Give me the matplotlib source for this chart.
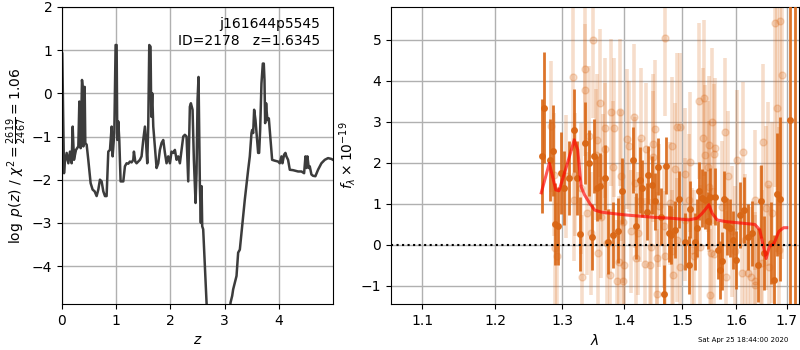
import matplotlib
matplotlib.use("Agg")
import matplotlib.pyplot as plt
import numpy as np
from matplotlib.ticker import FixedLocator, FixedFormatter, NullLocator

# ---- redshift probability curve ----
pz_z = [0.005, 0.037, 0.049, 0.086, 0.117, 0.147, 0.178, 0.197, 0.221, 0.258, 0.301, 0.320,
        0.344, 0.369, 0.381, 0.393, 0.418, 0.430, 0.455, 0.485, 0.528, 0.565, 0.602, 0.639,
        0.670, 0.700, 0.731, 0.762, 0.793, 0.823, 0.854, 0.885, 0.916, 0.934, 0.965, 0.989,
        1.008, 1.020, 1.038, 1.057, 1.081, 1.131, 1.161, 1.192, 1.223, 1.253, 1.284, 1.315,
        1.327, 1.352, 1.376, 1.438, 1.468, 1.499, 1.530, 1.548, 1.573, 1.591, 1.610, 1.634,
        1.647, 1.665, 1.684, 1.714, 1.745, 1.776, 1.806, 1.837, 1.868, 1.899, 1.929, 1.960,
        1.991, 2.021, 2.052, 2.083, 2.114, 2.144, 2.175, 2.206, 2.237, 2.267, 2.298, 2.329,
        2.359, 2.378, 2.409, 2.433, 2.464, 2.482, 2.501, 2.519, 2.544, 2.562, 2.575, 2.587,
        2.605, 2.636, 2.667, 2.72, 2.90, 3.07, 3.109, 3.140, 3.158, 3.189, 3.220, 3.250,
        3.281, 3.312, 3.373, 3.435, 3.465, 3.496, 3.508, 3.527, 3.545, 3.570, 3.594, 3.619,
        3.637, 3.656, 3.680, 3.705, 3.723, 3.736, 3.748, 3.766, 3.779, 3.791, 3.816, 3.853,
        3.877, 3.926, 3.988, 4.018, 4.049, 4.067, 4.098, 4.122, 4.140, 4.171, 4.203, 4.264,
        4.356, 4.418, 4.467, 4.492, 4.510, 4.528, 4.553, 4.571, 4.602, 4.632, 4.675, 4.724,
        4.786, 4.848, 4.909, 4.971, 5.0]
pz_logp = [0.92, -1.85, -1.62, -1.38, -1.62, -1.35, -1.62, -0.77, -1.54, -1.31, -1.23, -0.19,
           -1.27, 0.31, 0.15, -1.23, 0.15, -1.15, -1.19, -1.54, -2.08, -2.23, -2.27, -2.38,
           -2.23, -2.00, -2.04, -2.27, -2.38, -2.38, -1.35, -1.31, -0.77, -1.46, -0.92, 1.12,
           1.12, -1.08, -0.65, -1.08, -2.04, -2.04, -1.69, -1.62, -1.63, -1.58, -1.60, -1.54,
           -1.35, -1.58, -1.62, -1.54, -1.46, -1.08, -0.77, -1.08, -1.62, -0.77, 1.12, 1.08,
           -0.54, 0.00, -0.77, -1.23, -1.73, -1.62, -1.31, -1.15, -1.08, -1.38, -1.62, -1.46,
           -1.62, -1.35, -1.38, -1.31, -1.54, -1.46, -1.62, -1.31, -1.00, -0.96, -1.00, -2.04,
           -0.31, -0.23, -0.38, -1.54, -2.54, -1.85, -0.15, 0.38, -2.15, -3.00, -2.15, -3.08,
           -3.15, -4.00, -4.85, -6.0, -8.5, -6.0, -4.85, -4.69, -4.54, -4.38, -4.23, -3.69,
           -3.62, -3.23, -2.46, -1.77, -1.46, -0.92, -0.85, -0.92, -0.38, -0.62, -1.00, -1.38,
           -1.38, -0.85, 0.23, 0.69, 0.69, 0.31, -0.69, -0.23, -0.46, -0.62, -0.58, -1.15,
           -1.54, -1.56, -1.58, -1.62, -1.46, -1.62, -1.42, -1.38, -1.46, -1.54, -1.77, -1.78,
           -1.81, -1.81, -1.85, -1.46, -1.73, -1.46, -1.73, -1.69, -1.88, -1.91, -1.92, -1.77,
           -1.62, -1.54, -1.50, -1.52, -1.54]

# ---- spectrum: primary beam ----
spec1_lam = [1.2688, 1.2727, 1.2816, 1.2852, 1.2886, 1.2935, 1.2975, 1.3026, 1.3107, 1.3188,
             1.3232, 1.3286, 1.3351, 1.3415, 1.3471, 1.3503, 1.3545, 1.3594, 1.3675, 1.3730,
             1.3821, 1.3902, 1.3954, 1.4147, 1.4205, 1.4263, 1.4293, 1.4380, 1.4410, 1.4468,
             1.4526, 1.4574, 1.4631, 1.4674, 1.4719, 1.4761, 1.4807, 1.4877, 1.4947, 1.5056,
             1.5119, 1.5148, 1.5230, 1.5272, 1.5315, 1.5365, 1.5415, 1.5476, 1.5519, 1.5606,
             1.5661, 1.5704, 1.5735, 1.5767, 1.5828, 1.5889, 1.5933, 1.5994, 1.6076, 1.6160,
             1.6237, 1.6313, 1.6427, 1.6477, 1.6553, 1.6681, 1.6744, 1.6809, 1.6872, 1.7065,
             1.7166]
spec1_flux = [2.17, 3.35, 2.07, 2.30, 0.51, 0.46, 1.75, 1.38, 1.63, 2.79,
              1.63, 0.27, 2.48, 1.99, 0.19, 2.17, 1.38, 1.44, 1.64, 0.08,
              0.24, 0.35, 1.32, 2.07, 0.46, 1.59, 1.38, 0.81, 1.71, 1.46,
              1.06, 1.91, 0.69, -1.20, 1.93, 0.28, 0.24, 0.37, 1.11, 0.08,
              -0.49, 0.87, 0.08, 0.41, 1.32, 1.14, 1.10, 0.59, 1.18, 1.18,
              -0.12, -0.61, -0.39, 1.11, 0.45, 0.41, 0.12, -0.37, 0.73, 0.85,
              0.20, 0.28, -0.49, 1.06, -0.20, 0.04, -0.85, 1.24, 1.11, 3.05,
              6.5]
spec1_err = [1.39, 1.36, 1.0, 1.1, 1.0, 0.95, 1.0, 0.9, 0.9, 1.0,
             0.9, 0.9, 1.0, 0.8, 0.8, 0.9, 0.8, 0.8, 0.8, 0.8,
             0.8, 0.8, 0.8, 0.8, 0.8, 0.8, 0.7, 0.7, 0.7, 0.7,
             0.7, 0.7, 0.7, 0.7, 0.7, 0.7, 0.7, 0.7, 0.7, 0.7,
             0.7, 0.7, 0.7, 0.7, 0.7, 0.7, 0.7, 0.7, 0.7, 0.7,
             0.7, 0.7, 0.7, 0.7, 0.7, 0.7, 0.7, 0.7, 0.8, 0.8,
             0.8, 0.8, 0.9, 0.9, 0.9, 1.0, 1.1, 1.5, 2.0, 9.0,
             9.0]

# ---- spectrum: secondary beam ----
spec2_lam = [1.2826, 1.2875, 1.2886, 1.2915, 1.3054, 1.3162, 1.3179, 1.3205, 1.3297, 1.3308,
             1.3351, 1.3362, 1.3394, 1.3415, 1.3460, 1.3487, 1.3540, 1.3556, 1.3568, 1.3594,
             1.3622, 1.3649, 1.3675, 1.3687, 1.3708, 1.3768, 1.3773, 1.3812, 1.3837, 1.3881,
             1.3919, 1.3935, 1.3946, 1.3974, 1.3980, 1.3990, 1.4042, 1.4077, 1.4105, 1.4158,
             1.4188, 1.4205, 1.4235, 1.4263, 1.4281, 1.4351, 1.4368, 1.4439, 1.4456, 1.4481,
             1.4490, 1.4516, 1.4556, 1.4560, 1.4586, 1.4674, 1.4701, 1.4705, 1.4789, 1.4819,
             1.4825, 1.4831, 1.4877, 1.4907, 1.4910, 1.4965, 1.4968, 1.5056, 1.5060, 1.5119,
             1.5148, 1.5180, 1.5211, 1.5304, 1.5333, 1.5378, 1.5396, 1.5426, 1.5476, 1.5489,
             1.5500, 1.5519, 1.5537, 1.5545, 1.5582, 1.5585, 1.5611, 1.5730, 1.5796, 1.5800,
             1.5846, 1.5920, 1.5982, 1.6013, 1.6109, 1.6141, 1.6172, 1.6237, 1.6286, 1.6363,
             1.6366, 1.6376, 1.6491, 1.6495, 1.6515, 1.6586, 1.6618, 1.6648, 1.6694, 1.6758,
             1.6809, 1.6840, 1.6859, 1.6905]
spec2_flux = [2.89, 1.71, -0.07, -0.28, 1.67, 4.09, 1.10, 1.71, 1.38, -0.77,
              3.78, 4.28, 0.77, 2.66, 0.28, 5.00, 2.20, 2.56, -0.20, 3.46,
              0.69, 1.59, 2.34, 2.85, 0.04, -0.73, 3.23, 1.91, 2.86, -0.89,
              -0.41, 3.23, 1.69, 0.57, -0.89, -0.49, 2.58, 2.40, 0.33, 3.11,
              1.52, -0.33, 0.28, 1.08, 2.61, -0.46, 2.34, -0.49, -0.04, 2.46,
              2.15, 2.82, -0.32, -1.20, 0.95, 0.45, 5.05, -0.28, 1.02, 2.40,
              -0.16, -0.73, 1.85, 2.88, 0.12, 2.88, -0.53, 1.73, 0.61, 1.10,
              2.02, -0.12, -0.27, 3.51, -0.04, 2.61, 3.58, 2.20, 1.91, 2.43,
              1.42, -1.22, -0.20, 2.99, 2.22, -0.22, 2.37, 0.93, 2.75, -0.77,
              1.67, 0.33, -0.16, 2.07, -0.69, 2.26, 0.12, -0.69, -0.77, 1.10,
              -0.89, -0.98, 0.12, -0.45, 2.50, 0.89, 1.49, -0.53, 0.79, 5.41,
              3.33, -0.12, 5.46, 4.15]
spec2_err = [1.6, 1.5, 1.4, 1.3, 1.5, 1.8, 1.5, 1.5, 1.6, 1.5,
             1.6, 1.8, 1.5, 1.7, 1.5, 1.9, 1.6, 1.6, 1.5, 1.8,
             1.5, 1.6, 1.6, 1.7, 1.5, 1.6, 1.8, 1.6, 1.7, 1.5,
             1.6, 1.8, 1.6, 1.5, 1.5, 1.5, 1.7, 1.6, 1.5, 1.8,
             1.6, 1.5, 1.5, 1.5, 1.7, 1.6, 1.6, 1.6, 1.5, 1.7,
             1.6, 1.7, 1.6, 1.6, 1.5, 1.5, 1.9, 1.6, 1.5, 1.7,
             1.5, 1.6, 1.6, 1.8, 1.5, 1.8, 1.6, 1.6, 1.5, 1.6,
             1.7, 1.5, 1.6, 1.9, 1.5, 1.7, 1.9, 1.7, 1.6, 1.7,
             1.6, 1.6, 1.6, 1.8, 1.7, 1.6, 1.7, 1.6, 1.8, 1.6,
             1.6, 1.6, 1.6, 1.7, 1.6, 1.7, 1.6, 1.7, 1.7, 1.7,
             1.7, 1.7, 1.8, 1.8, 1.9, 2.0, 2.0, 2.0, 2.2, 4.0,
             3.5, 3.0, 4.5, 4.5]

# ---- best-fit model ----
model_lam = [1.2678, 1.2801, 1.2901, 1.2950, 1.3081, 1.3188, 1.3243, 1.3297, 1.3351, 1.3432,
             1.3513, 1.3622, 1.3784, 1.4030, 1.4526, 1.4819, 1.5119, 1.5272, 1.5365, 1.5439,
             1.5489, 1.5550, 1.5643, 1.5796, 1.6363, 1.6459, 1.6524, 1.6586, 1.6650, 1.6745,
             1.6840, 1.6935, 1.7000]
model_flux = [1.27, 1.99, 1.34, 1.32, 1.99, 2.56, 2.32, 1.42, 1.22, 1.02,
              0.85, 0.80, 0.77, 0.73, 0.67, 0.65, 0.61, 0.65, 0.77, 0.89,
              0.98, 0.77, 0.61, 0.57, 0.50, 0.37, 0.00, -0.33, -0.04, 0.04,
              0.33, 0.42, 0.42]

lam_ticks = [1.1, 1.2, 1.3, 1.4, 1.5, 1.6, 1.7]
lam_tick_labels = ["1.1", "1.2", "1.3", "1.4", "1.5", "1.6", "1.7"]

orange = "#d96614"
grid_kw = dict(color="#b0b0b0", linewidth=1.0)

fig = plt.figure(figsize=(8, 3.5), dpi=100)

# left panel: p(z)
ax1 = fig.add_axes([0.0775, 0.1314, 0.33875, 0.8486])
ax1.plot(pz_z, pz_logp, color="#3c3c3c", linewidth=1.8)
ax1.set_xlim(0, 5.0)
ax1.set_ylim(-4.88, 2.0)
ax1.set_xticks([0, 1, 2, 3, 4])
ax1.set_yticks([-4, -3, -2, -1, 0, 1, 2])
ax1.grid(True, **grid_kw)
ax1.set_axisbelow(True)
ax1.set_xlabel(r"$z$")
ax1.set_ylabel(r"$\log\ p(z)$ / $\chi^2=\frac{2619}{2467}=1.06$", labelpad=2)
ax1.text(0.952, 0.965, "j161644p5545\nID=2178   z=1.6345", transform=ax1.transAxes,
         ha="right", va="top", fontsize=10)

# right panel: spectrum
ax2 = fig.add_axes([0.48875, 0.1314, 0.51, 0.8486])
ax2.set_xscale("log")
ax2.errorbar(spec2_lam, spec2_flux, yerr=spec2_err, fmt="o", color=orange, alpha=0.22,
             markersize=5, elinewidth=2.6, capsize=0, zorder=2)
ax2.errorbar(spec1_lam, spec1_flux, yerr=spec1_err, fmt="o", color=orange, alpha=0.9,
             markersize=4, elinewidth=2.0, capsize=0, zorder=3)
ax2.plot(model_lam, model_flux, color="red", alpha=0.65, linewidth=2.2, zorder=4)
ax2.axhline(0, color="k", linestyle=":", linewidth=1.5, zorder=5)
ax2.set_xlim(1.0595, 1.725)
ax2.set_ylim(-1.44, 5.8)
ax2.xaxis.set_major_locator(FixedLocator(lam_ticks))
ax2.xaxis.set_major_formatter(FixedFormatter(lam_tick_labels))
ax2.xaxis.set_minor_locator(NullLocator())
ax2.set_yticks([-1, 0, 1, 2, 3, 4, 5])
ax2.grid(True, **grid_kw)
ax2.set_axisbelow(True)
ax2.set_xlabel(r"$\lambda$")
ax2.set_ylabel(r"$f_\lambda\times10^{-19}$", labelpad=2)

fig.text(0.985, 0.028, "Sat Apr 25 18:44:00 2020", ha="right", va="center", fontsize=5)

fig.savefig("out.png", dpi=100)
